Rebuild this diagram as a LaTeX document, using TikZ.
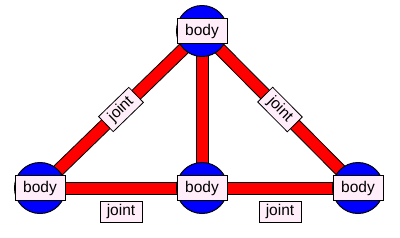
\documentclass[tikz,border=0pt]{standalone}
\usepackage{fontspec}
\setmainfont{Liberation Sans}
\definecolor{boxpink}{RGB}{255,238,250}
\begin{document}
\begin{tikzpicture}[
  x=1bp, y=-1bp,
  every node/.style={font=\fontsize{15.5bp}{18bp}\selectfont},
  bodynode/.style={circle, draw=black, line width=1bp, fill=blue,
                   minimum size=51bp, inner sep=0pt},
  bodylabel/.style={rectangle, draw=black, line width=0.8bp, fill=boxpink,
                    minimum width=50bp, minimum height=25bp, inner sep=0pt},
  jointlabel/.style={rectangle, draw=black, line width=0.8bp, fill=boxpink,
                     minimum width=42bp, minimum height=21bp, inner sep=0pt},
  bar/.style={line width=1bp, draw=black, double=red, double distance=11bp}
]
\useasboundingbox (0,0) rectangle (400,238);
\coordinate (top) at (202,31);
\coordinate (left) at (40,188);
\coordinate (mid) at (202,188);
\coordinate (right) at (358,188);
% bars
\draw[bar] (left) -- (top);
\draw[bar] (top) -- (right);
\draw[bar] (top) -- (mid);
\draw[bar] (left) -- (mid);
\draw[bar] (mid) -- (right);
% bodies
\foreach \b in {top, left, mid, right} {
  \node[bodynode] (\b c) at (\b) {};
  \node[bodylabel] (\b l) at (\b) {body};
}
% joints
\path (leftc) -- (topc) node[jointlabel, midway, sloped] (j1) {joint};
\path (topc) -- (rightc) node[jointlabel, midway, sloped] (j2) {joint};
\path (left) -- (mid) node[jointlabel, midway, below=13bp] (j3) {joint};
\path (mid) -- (right) node[jointlabel, midway, below=13bp] (j4) {joint};
\end{tikzpicture}
\end{document}
